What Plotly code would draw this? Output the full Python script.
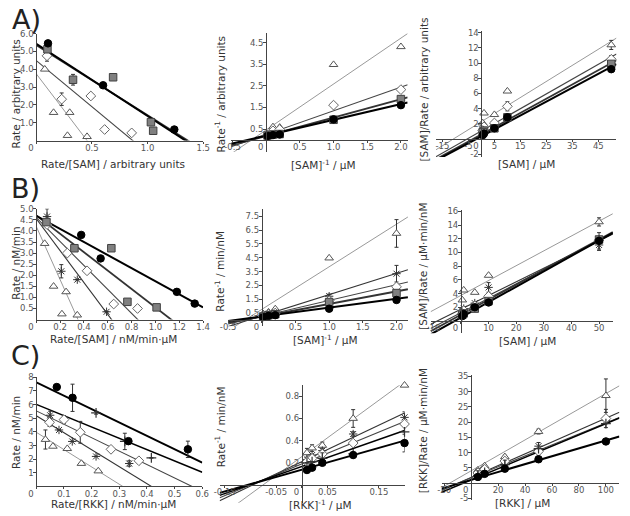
import plotly.graph_objects as go

W, H = 630, 516

# ---------------- DATA ----------------
# Row A : Eadie-Hofstee (A1), Lineweaver-Burk (A2), Hanes (A3); series: circle, square, diamond, triangle
A1_circle_x = [0.105, 0.60, 1.24]
A1_circle_y = [5.45, 3.10, 0.62]
A1_circle_err = [0, 0, 0]
A1_square_x = [0.10, 0.33, 0.69, 1.03, 1.05]
A1_square_y = [5.12, 3.41, 3.55, 1.03, 0.55]
A1_square_err = [0, 0.3, 0, 0, 0]
A1_diamond_x = [0.096, 0.228, 0.49, 0.614, 0.857]
A1_diamond_y = [4.75, 2.32, 2.50, 0.62, 0.43]
A1_diamond_err = [0.3, 0.35, 0, 0, 0]
A1_triangle_x = [0.076, 0.155, 0.30, 0.28, 0.456]
A1_triangle_y = [4.0, 1.57, 1.57, 0.28, 0.22]
A1_triangle_err = [0, 0, 0, 0, 0]
A1_fit_intercept = [5.43, 5.35, 4.48, 3.74]
A1_fit_slope = [-4.05, -3.93, -5.17, -8.2]

A2_x = [0.02, 0.1, 0.2, 1.0, 2.0]
A2_circle_y = [0.18, 0.22, 0.25, 0.95, 1.61]
A2_square_y = [0.20, 0.25, 0.27, 0.93, 1.89]
A2_diamond_y = [0.22, 0.42, 0.48, 1.61, 2.33]
A2_triangle_y = [0.27, 0.60, 0.58, 3.49, 4.32]
A2_fit_intercept = [0.20, 0.18, 0.25, 0.46]
A2_fit_slope = [0.73, 0.85, 1.10, 2.13]

A3_x = [50, 10, 5, 1, 0.5]
A3_circle_y = [9.2, 2.85, 1.4, 0.7, 0.5]
A3_square_y = [9.9, 2.85, 1.4, 1.1, 0.9]
A3_diamond_y = [10.5, 4.3, 2.1, 1.6, 1.1]
A3_diamond_err = [0.5, 0.6, 0, 0, 0]
A3_triangle_y = [12.4, 6.3, 3.2, 3.4, 2.1]
A3_triangle_err = [0.6, 0, 0, 0, 0]
A3_fit_intercept = [0.35, 0.60, 1.06, 2.28]
A3_fit_slope = [0.183, 0.188, 0.195, 0.212]

# Row B : series circle, square, diamond, star, triangle
B1_circle_x = [0.377, 0.54, 1.18, 1.33]
B1_circle_y = [3.82, 2.76, 1.25, 0.72]
B1_square_x = [0.085, 0.32, 0.63, 0.765, 1.01]
B1_square_y = [4.4, 3.22, 3.22, 0.8, 0.55]
B1_diamond_x = [0.09, 0.26, 0.426, 0.65, 0.85]
B1_diamond_y = [4.29, 3.0, 2.2, 0.7, 0.5]
B1_star_x = [0.09, 0.21, 0.344, 0.59]
B1_star_y = [4.65, 2.18, 1.8, 0.35]
B1_star_err = [0.35, 0.3, 0, 0]
B1_triangle_x = [0.07, 0.145, 0.25, 0.215, 0.344]
B1_triangle_y = [3.43, 1.5, 1.25, 0.25, 0.2]
B1_fit_intercept = [4.68, 4.70, 4.60, 4.55, 4.20]
B1_fit_slope = [-2.95, -4.15, -5.4, -7.2, -12.0]

B2_x = [0.02, 0.1, 0.2, 1.0, 2.0]
B2_circle_y = [0.22, 0.30, 0.35, 0.82, 1.45]
B2_square_y = [0.25, 0.35, 0.42, 1.30, 1.95]
B2_diamond_y = [0.28, 0.40, 0.50, 1.40, 2.40]
B2_star_y = [0.30, 0.45, 0.55, 1.72, 3.35]
B2_star_err = [0, 0, 0, 0.15, 0.6]
B2_triangle_y = [0.45, 0.57, 0.80, 4.48, 6.26]
B2_triangle_err = [0, 0, 0, 0, 1.0]
B2_fit_intercept = [0.25, 0.25, 0.28, 0.30, 0.77]
B2_fit_slope = [0.64, 0.91, 1.14, 1.54, 3.08]

B3_x = [50, 10, 5, 1, 0.5]
B3_circle_y = [11.7, 2.7, 2.0, 1.0, 0.7]
B3_circle_err = [1.2, 0, 0, 0, 0]
B3_square_y = [11.9, 2.9, 1.8, 1.1, 0.9]
B3_diamond_y = [11.8, 3.6, 2.2, 1.5, 1.1]
B3_star_y = [11.1, 4.9, 2.6, 1.8, 1.5]
B3_star_err = [0.8, 0.7, 0, 0, 0]
B3_triangle_y = [14.47, 6.65, 4.16, 4.5, 3.05]
B3_triangle_err = [0.6, 0, 0, 0, 0]
B3_fit_intercept = [0.5, 0.9, 1.2, 1.7, 3.73]
B3_fit_slope = [0.225, 0.22, 0.21, 0.20, 0.217]

# Row C : series circle, plus, diamond, star, triangle
C1_circle_x = [0.074, 0.131, 0.333, 0.548]
C1_circle_y = [7.29, 6.5, 3.32, 2.72]
C1_circle_err = [0, 1.0, 0, 0.6]
C1_plus_x = [0.216, 0.32, 0.416]
C1_plus_y = [5.4, 3.3, 2.09]
C1_plus_err = [0.1, 0.6, 0]
C1_diamond_x = [0.048, 0.10, 0.159, 0.27, 0.371]
C1_diamond_y = [4.7, 4.9, 3.97, 2.72, 1.88]
C1_diamond_err = [0.3, 0.3, 0.8, 0, 0]
C1_star_x = [0.05, 0.082, 0.13, 0.216, 0.336]
C1_star_y = [5.22, 4.14, 3.3, 2.2, 1.68]
C1_star_err = [0.3, 0, 0, 0, 0.2]
C1_triangle_x = [0.033, 0.06, 0.112, 0.163, 0.224]
C1_triangle_y = [3.44, 2.94, 2.77, 1.68, 1.13]
C1_triangle_err = [0.7, 0, 0, 0, 0]
C1_fit_intercept = [7.63, 6.02, 5.54, 5.18, 3.97]
C1_fit_slope = [-9.8, -8.3, -9.84, -12.45, -12.7]

C2_x = [0.2, 0.1, 0.04, 0.02, 0.01]
C2_circle_y = [0.378, 0.27, 0.20, 0.156, 0.135]
C2_circle_err = [0.08, 0, 0, 0, 0]
C2_plus_y = [0.48, 0.28, 0.24, 0.21, 0.20]
C2_plus_err = [0, 0, 0.05, 0, 0]
C2_diamond_y = [0.55, 0.378, 0.28, 0.24, 0.21]
C2_star_y = [0.61, 0.46, 0.31, 0.27, 0.23]
C2_star_err = [0.05, 0.02, 0, 0, 0]
C2_triangle_y = [0.90, 0.60, 0.357, 0.333, 0.29]
C2_triangle_err = [0, 0.08, 0.03, 0.03, 0.04]
C2_fit_intercept = [0.138, 0.166, 0.19, 0.21, 0.256]
C2_fit_slope = [1.31, 1.625, 1.91, 2.2, 3.39]

C3_x = [100, 50, 25, 10, 5]
C3_circle_y = [13.65, 7.8, 4.7, 3.0, 2.0]
C3_plus_y = [19.5, 11.3, 6.0, 3.5, 2.5]
C3_plus_err = [0, 0, 1.5, 0, 1.5]
C3_diamond_y = [21.2, 10.4, 7.2, 4.5, 3.3]
C3_diamond_err = [3.0, 0, 0, 0, 0]
C3_star_y = [20.5, 12.1, 6.2, 4.0, 3.0]
C3_star_err = [1.0, 1.2, 0, 0, 0]
C3_triangle_y = [28.7, 16.9, 8.6, 5.6, 4.2]
C3_triangle_err = [5.5, 0.8, 0.5, 0, 0]
C3_fit_intercept = [1.0, 1.0, 1.7, 1.8, 4.0]
C3_fit_slope = [0.13, 0.185, 0.18, 0.195, 0.254]

# tick labels
A1_xticks = [0, 0.5, 1.0, 1.5]; A1_yticks = [1, 2, 3, 4, 5, 6]
A2_xticks = [-0.5, 0, 0.5, 1.0, 1.5, 2.0]; A2_yticks = [0.5, 1.5, 2.5, 3.5, 4.5]
A3_xticks = [-15, -5, 0, 5, 15, 25, 35, 45]; A3_yticks = [-2, 2, 4, 6, 8, 10, 12, 14]
B1_xticks = [0, 0.2, 0.4, 0.6, 0.8, 1.0, 1.2, 1.4]; B1_yticks = [0.5, 1.0, 1.5, 2.0, 2.5, 3.0, 3.5, 4.0, 4.5, 5.0]
B2_xticks = [-0.5, 0, 0.5, 1.0, 1.5, 2.0]; B2_yticks = [0.5, 1.5, 2.5, 3.5, 4.5, 5.5, 6.5, 7.5]
B3_xticks = [-10, 0, 10, 20, 30, 40, 50]; B3_yticks = [2, 4, 6, 8, 10, 12, 14, 16]
C1_xticks = [0, 0.1, 0.2, 0.3, 0.4, 0.5, 0.6]; C1_yticks = [1, 2, 3, 4, 5, 6, 7, 8]
C2_xticks = [-0.15, -0.05, 0, 0.05, 0.15]; C2_yticks = [0.2, 0.4, 0.6, 0.8]
C3_xticks = [-20, 0, 20, 40, 60, 80, 100]; C3_yticks = [-5, 5, 10, 15, 20, 25, 30, 35]

A1_xtitle = "Rate/[SAM] / arbitrary units"; A1_ytitle = "Rate / arbitrary units"
A2_xtitle = "[SAM]<sup>-1</sup> / μM"; A2_ytitle = "Rate<sup>-1</sup> / arbitrary units"
A3_xtitle = "[SAM] / μM"; A3_ytitle = "[SAM]/Rate / arbitrary units"
B1_xtitle = "Rate/[SAM] / nM/min·μM"; B1_ytitle = "Rate / nM/min"
B2_xtitle = "[SAM]<sup>-1</sup> / μM"; B2_ytitle = "Rate<sup>-1</sup> / min/nM"
B3_xtitle = "[SAM] / μM"; B3_ytitle = "[SAM]/Rate / μM·min/nM"
C1_xtitle = "Rate/[RKK] / nM/min·μM"; C1_ytitle = "Rate / nM/min"
C2_xtitle = "[RKK]<sup>-1</sup> / μM"; C2_ytitle = "Rate<sup>-1</sup> / min/nM"
C3_xtitle = "[RKK] / μM"; C3_ytitle = "[RKK]/Rate / μM·min/nM"
row_labels = ["A)", "B)", "C)"]

# ---------------- STYLES ----------------
MARK = {
    'circle': dict(symbol='circle', color='black', size=7.5, line=dict(color='black', width=1)),
    'square': dict(symbol='square', color='#808080', size=7.5, line=dict(color='#404040', width=1)),
    'diamond': dict(symbol='diamond', color='white', size=7.5, line=dict(color='#666666', width=1)),
    'triangle': dict(symbol='triangle-up', color='white', size=7.5, line=dict(color='#555555', width=1)),
    'star': dict(symbol='asterisk-open', color='#333333', size=7, line=dict(color='#333333', width=1)),
    'plus': dict(symbol='cross-thin-open', color='#333333', size=7, line=dict(color='#333333', width=1.2)),
}
FIT = {
    'circle': dict(color='black', width=2),
    'square': dict(color='#333333', width=1.8),
    'diamond': dict(color='#444444', width=1.1),
    'star': dict(color='#333333', width=1.1),
    'plus': dict(color='black', width=1.5),
    'triangle': dict(color='#999999', width=1),
}

def z(n):
    return [0] * n

panels = [
    dict(xr=[0, 1.5], xpx=[29, 200], yr=[0, 6], ypx=[137.7, 29],
         xt=A1_xticks, yt=A1_yticks, xfmt='{:.1f}', yfmt='{:.1f}',
         series=[('triangle', A1_triangle_x, A1_triangle_y, A1_triangle_err),
                 ('diamond', A1_diamond_x, A1_diamond_y, A1_diamond_err),
                 ('square', A1_square_x, A1_square_y, A1_square_err),
                 ('circle', A1_circle_x, A1_circle_y, A1_circle_err)],
         fits=list(zip(['circle', 'square', 'diamond', 'triangle'], A1_fit_intercept, A1_fit_slope)),
         xtitle=A1_xtitle, ytitle=A1_ytitle, xtpos=(108, 162), ytpos=(8, 90)),
    dict(xr=[-0.52, 2.1], xpx=[228.6, 409.4], yr=[-0.55, 4.95], ypx=[149.0, 28.6],
         xt=A2_xticks, yt=A2_yticks, xfmt='{:.1f}', yfmt='{:.1f}',
         series=[('triangle', A2_x, A2_triangle_y, z(5)), ('diamond', A2_x, A2_diamond_y, z(5)),
                 ('square', A2_x, A2_square_y, z(5)), ('circle', A2_x, A2_circle_y, z(5))],
         fits=list(zip(['circle', 'square', 'diamond', 'triangle'], A2_fit_intercept, A2_fit_slope)),
         xtitle=A2_xtitle, ytitle=A2_ytitle, xtpos=(323, 162), ytpos=(217, 90)),
    dict(xr=[-17.5, 52], xpx=[438.4, 623.3], yr=[-2.4, 14.2], ypx=[154.5, 26.7],
         xt=A3_xticks, yt=A3_yticks, xfmt='{:.0f}', yfmt='{:.0f}',
         series=[('triangle', A3_x, A3_triangle_y, A3_triangle_err), ('diamond', A3_x, A3_diamond_y, A3_diamond_err),
                 ('square', A3_x, A3_square_y, z(5)), ('circle', A3_x, A3_circle_y, z(5))],
         fits=list(zip(['circle', 'square', 'diamond', 'triangle'], A3_fit_intercept, A3_fit_slope)),
         xtitle=A3_xtitle, ytitle=A3_ytitle, xtpos=(531, 162), ytpos=(426, 86)),
    dict(xr=[0, 1.4], xpx=[29, 199.8], yr=[0, 5], ypx=[319.5, 207],
         xt=B1_xticks, yt=B1_yticks, xfmt='{:.1f}', yfmt='{:.1f}',
         series=[('triangle', B1_triangle_x, B1_triangle_y, z(5)), ('star', B1_star_x, B1_star_y, B1_star_err),
                 ('diamond', B1_diamond_x, B1_diamond_y, z(5)), ('square', B1_square_x, B1_square_y, z(5)),
                 ('circle', B1_circle_x, B1_circle_y, z(4))],
         fits=list(zip(['circle', 'square', 'diamond', 'star', 'triangle'], B1_fit_intercept, B1_fit_slope)),
         xtitle=B1_xtitle, ytitle=B1_ytitle, xtpos=(108, 339), ytpos=(8, 262)),
    dict(xr=[-0.5, 2.17], xpx=[225.5, 409.7], yr=[-0.45, 8.0], ypx=[326.3, 207.6],
         xt=B2_xticks, yt=B2_yticks, xfmt='{:.1f}', yfmt='{:.1f}',
         series=[('triangle', B2_x, B2_triangle_y, B2_triangle_err), ('star', B2_x, B2_star_y, B2_star_err),
                 ('diamond', B2_x, B2_diamond_y, z(5)), ('square', B2_x, B2_square_y, z(5)),
                 ('circle', B2_x, B2_circle_y, z(5))],
         fits=list(zip(['circle', 'square', 'diamond', 'star', 'triangle'], B2_fit_intercept, B2_fit_slope)),
         xtitle=B2_xtitle, ytitle=B2_ytitle, xtpos=(325, 340), ytpos=(217, 270)),
    dict(xr=[-11, 55], xpx=[432.9, 619.6], yr=[-1.8, 16.2], ypx=[333.4, 208.3],
         xt=B3_xticks, yt=B3_yticks, xfmt='{:.0f}', yfmt='{:.0f}',
         series=[('triangle', B3_x, B3_triangle_y, B3_triangle_err), ('star', B3_x, B3_star_y, B3_star_err),
                 ('diamond', B3_x, B3_diamond_y, z(5)), ('square', B3_x, B3_square_y, z(5)),
                 ('circle', B3_x, B3_circle_y, B3_circle_err)],
         fits=list(zip(['circle', 'square', 'diamond', 'star', 'triangle'], B3_fit_intercept, B3_fit_slope)),
         xtitle=B3_xtitle, ytitle=B3_ytitle, xtpos=(532, 341), ytpos=(425, 265)),
    dict(xr=[0, 0.6], xpx=[29, 199], yr=[0, 8], ypx=[489, 378.2],
         xt=C1_xticks, yt=C1_yticks, xfmt='{:.1f}', yfmt='{:.0f}',
         series=[('triangle', C1_triangle_x, C1_triangle_y, C1_triangle_err), ('star', C1_star_x, C1_star_y, C1_star_err),
                 ('diamond', C1_diamond_x, C1_diamond_y, C1_diamond_err), ('plus', C1_plus_x, C1_plus_y, C1_plus_err),
                 ('circle', C1_circle_x, C1_circle_y, C1_circle_err)],
         fits=list(zip(['circle', 'plus', 'diamond', 'star', 'triangle'], C1_fit_intercept, C1_fit_slope)),
         xtitle=C1_xtitle, ytitle=C1_ytitle, xtpos=(108, 507), ytpos=(8, 434)),
    dict(xr=[-0.16, 0.2], xpx=[216.8, 406.2], yr=[-0.16, 0.9], ypx=[505.5, 386.25],
         xt=C2_xticks, yt=C2_yticks, xfmt='{:.2f}', yfmt='{:.1f}',
         series=[('triangle', C2_x, C2_triangle_y, C2_triangle_err), ('star', C2_x, C2_star_y, C2_star_err),
                 ('diamond', C2_x, C2_diamond_y, z(5)), ('plus', C2_x, C2_plus_y, C2_plus_err),
                 ('circle', C2_x, C2_circle_y, C2_circle_err)],
         fits=list(zip(['circle', 'plus', 'diamond', 'star', 'triangle'], C2_fit_intercept, C2_fit_slope)),
         xtitle=C2_xtitle, ytitle=C2_ytitle, xtpos=(320, 507), ytpos=(217, 428)),
    dict(xr=[-22, 110], xpx=[444.1, 626.3], yr=[-5.5, 35.5], ypx=[502.5, 375.8],
         xt=C3_xticks, yt=C3_yticks, xfmt='{:.0f}', yfmt='{:.0f}',
         series=[('triangle', C3_x, C3_triangle_y, C3_triangle_err), ('star', C3_x, C3_star_y, C3_star_err),
                 ('diamond', C3_x, C3_diamond_y, C3_diamond_err), ('plus', C3_x, C3_plus_y, C3_plus_err),
                 ('circle', C3_x, C3_circle_y, z(5))],
         fits=list(zip(['circle', 'plus', 'diamond', 'star', 'triangle'], C3_fit_intercept, C3_fit_slope)),
         xtitle=C3_xtitle, ytitle=C3_ytitle, xtpos=(527, 506), ytpos=(425, 432)),
]

FONT = "DejaVu Sans"
fig = go.Figure()
layout = {}
annotations = []

def fmt_tick(v, f):
    if v == 0:
        # the "0" label sits just left of the crossing vertical axis
        return "0" + "\u00a0" * 4
    return f.format(v)

for i, p in enumerate(panels):
    n = '' if i == 0 else str(i + 1)
    xref, yref = 'x' + n, 'y' + n
    (x0, x1), (y0, y1) = p['xr'], p['yr']
    (px0, px1), (pyb, pyt) = p['xpx'], p['ypx']
    # pixel location of the zero lines (axes cross at origin)
    zero_px = px0 + (0 - x0) / (x1 - x0) * (px1 - px0)
    zero_py = pyb + (0 - y0) / (y1 - y0) * (pyt - pyb)
    common = dict(showgrid=False, zeroline=False, showline=True, linecolor='#444444', linewidth=1,
                  ticks='outside', tickwidth=1, tickcolor='#444444', tickangle=0,
                  tickfont=dict(family=FONT, size=8.5, color='#555555'), anchor='free', fixedrange=True)
    layout['xaxis' + n] = dict(common, domain=[px0 / W, px1 / W], range=p['xr'],
                               position=1 - zero_py / H, ticklen=2, ticklabelstandoff=-3,
                               tickvals=p['xt'], ticktext=[fmt_tick(v, p['xfmt']) for v in p['xt']])
    layout['yaxis' + n] = dict(common, domain=[1 - pyb / H, 1 - pyt / H], range=p['yr'],
                               position=zero_px / W, ticklen=3, ticklabelstandoff=-2,
                               tickvals=p['yt'], ticktext=[fmt_tick(v, p['yfmt']) for v in p['yt']])
    # fit lines (drawn across the axis range, clipped by the plot area)
    for key, b, m in reversed(p['fits']):
        fig.add_trace(go.Scatter(x=[x0, x1], y=[b + m * x0, b + m * x1], mode='lines',
                                 line=FIT[key], xaxis=xref, yaxis=yref, hoverinfo='skip'))
    # data points
    for key, xs, ys, err in p['series']:
        fig.add_trace(go.Scatter(x=xs, y=ys, mode='markers', marker=MARK[key],
                                 error_y=dict(type='data', array=err, visible=True, color='#333333',
                                              thickness=1, width=2),
                                 xaxis=xref, yaxis=yref, cliponaxis=False))
    annotations.append(dict(text=p['xtitle'], x=p['xtpos'][0] / W, y=1 - p['xtpos'][1] / H,
                            xref='paper', yref='paper', showarrow=False, xanchor='center', yanchor='middle',
                            font=dict(family=FONT, size=10.5, color='#333333')))
    annotations.append(dict(text=p['ytitle'], x=p['ytpos'][0] / W, y=1 - p['ytpos'][1] / H,
                            xref='paper', yref='paper', showarrow=False, xanchor='center', yanchor='middle',
                            textangle=-90, font=dict(family=FONT, size=10.5, color='#333333')))

for lab, (lx, ly) in zip(row_labels, [(19, 15), (18, 186), (18, 356)]):
    annotations.append(dict(text=lab, x=lx / W, y=1 - ly / H, xref='paper', yref='paper', showarrow=False,
                            xanchor='center', yanchor='middle', font=dict(family=FONT, size=27, color='#222222')))

fig.update_layout(width=W, height=H, margin=dict(l=0, r=0, t=0, b=0), showlegend=False,
                  paper_bgcolor='white', plot_bgcolor='white', annotations=annotations, **layout)
fig.write_html("out.html")
